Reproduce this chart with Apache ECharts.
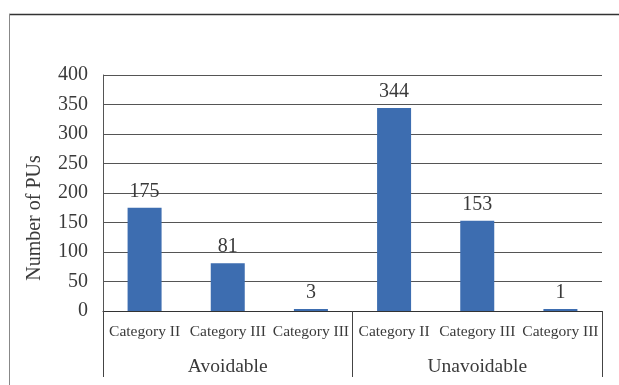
<!DOCTYPE html>
<html>
<head>
<meta charset="utf-8">
<style>
  html, body { margin: 0; padding: 0; background: #fff; }
  #chart { width: 619px; height: 385px; }
</style>
<script src="https://cdn.jsdelivr.net/npm/echarts@6/dist/echarts.min.js"></script>
</head>
<body>
<div id="chart"></div>
<script>
const categories = ['Category II', 'Category III', 'Category III', 'Category II', 'Category III', 'Category III'];
const groups = ['Avoidable', 'Unavoidable'];
const values = [175, 81, 3, 344, 153, 1];
const yTicks = [0, 50, 100, 150, 200, 250, 300, 350, 400];

const FONT = '"Liberation Serif", "DejaVu Serif", serif';
const TXT = '#3a3a3a';

const chart = echarts.init(document.getElementById('chart'));
chart.setOption({
  animation: false,
  backgroundColor: '#ffffff',
  grid: { left: 103, right: 17, top: 75, bottom: 74, containLabel: false },
  xAxis: [
    {
      type: 'category',
      data: categories,
      position: 'bottom',
      axisLine: { show: true, lineStyle: { color: '#333', width: 1 } },
      axisTick: { show: false },
      axisLabel: { interval: 0, margin: 13, color: TXT, fontFamily: FONT, fontSize: 15.5 }
    },
    {
      type: 'category',
      data: groups,
      position: 'bottom',
      axisLine: { show: false },
      axisTick: { show: true, length: 66, lineStyle: { color: '#444', width: 1 } },
      axisLabel: { interval: 0, margin: 46, color: TXT, fontFamily: FONT, fontSize: 19.5 }
    }
  ],
  yAxis: {
    type: 'value',
    min: yTicks[0],
    max: yTicks[yTicks.length - 1],
    interval: 50,
    axisLine: { show: true, lineStyle: { color: '#555', width: 1 } },
    axisTick: { show: false },
    axisLabel: { margin: 15, color: TXT, fontFamily: FONT, fontSize: 20 },
    splitLine: { show: true, lineStyle: { color: '#555', width: 1 } }
  },
  graphic: [
    { type: 'line', shape: { x1: 9, y1: 14.5, x2: 619, y2: 14.5 }, style: { stroke: '#333', lineWidth: 1.5 } },
    { type: 'line', shape: { x1: 9.5, y1: 14, x2: 9.5, y2: 385 }, style: { stroke: '#888', lineWidth: 1 } },
    {
      type: 'text', x: 35, y: 218, rotation: Math.PI / 2,
      style: { text: 'Number of PUs', fill: TXT, font: '20px ' + FONT, textAlign: 'center', textVerticalAlign: 'middle' }
    }
  ],
  series: [{
    type: 'bar',
    data: values,
    barWidth: 34,
    barMinHeight: 2,
    itemStyle: { color: '#3d6db0' },
    label: { show: true, position: 'top', distance: 6, color: TXT, fontFamily: FONT, fontSize: 20 }
  }]
});
</script>
</body>
</html>
